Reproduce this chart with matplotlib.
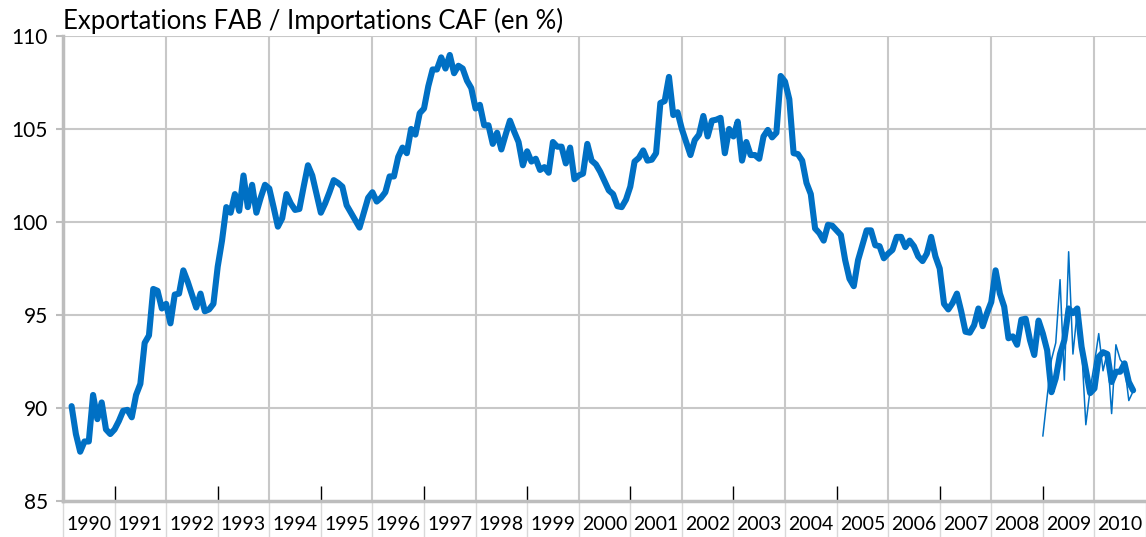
import matplotlib
matplotlib.use("Agg")
import matplotlib.pyplot as plt
import numpy as np

# monthly ratio (3-month average), March 1990 -> October 2010
start_smooth = (1990, 3)
smooth = [
    90.1, 88.6, 87.65, 88.2, 88.2, 90.7, 89.4, 90.3, 88.85, 88.6,            # 1990
    88.85, 89.3, 89.85, 89.9, 89.5, 90.7, 91.3, 93.5, 93.9, 96.4, 96.3, 95.35,  # 1991
    95.6, 94.55, 96.1, 96.15, 97.4, 96.8, 96.1, 95.4, 96.15, 95.2, 95.3, 95.6,  # 1992
    97.6, 99.0, 100.8, 100.5, 101.5, 100.6, 102.5, 100.8, 102.0, 100.5, 101.3, 102.0,  # 1993
    101.8, 100.8, 99.75, 100.2, 101.5, 101.0, 100.65, 100.7, 101.9, 103.05, 102.5, 101.5,  # 1994
    100.5, 101.0, 101.6, 102.25, 102.1, 101.9, 100.9, 100.5, 100.1, 99.7, 100.5, 101.3,  # 1995
    101.6, 101.1, 101.3, 101.6, 102.45, 102.45, 103.5, 104.0, 103.7, 105.0, 104.7, 105.85,  # 1996
    106.1, 107.3, 108.2, 108.2, 108.85, 108.25, 108.98, 108.0, 108.4, 108.25, 107.6, 107.2,  # 1997
    106.1, 106.3, 105.2, 105.2, 104.2, 104.8, 103.9, 104.7, 105.45, 104.85, 104.3, 103.05,  # 1998
    103.8, 103.25, 103.4, 102.8, 102.95, 102.65, 104.3, 104.05, 104.05, 103.15, 104.0, 102.3,  # 1999
    102.5, 102.6, 104.2, 103.3, 103.1, 102.7, 102.2, 101.7, 101.5, 100.85, 100.8, 101.2,  # 2000
    101.9, 103.25, 103.45, 103.85, 103.3, 103.35, 103.7, 106.4, 106.5, 107.8, 105.75, 105.9,  # 2001
    105.0, 104.3, 103.6, 104.4, 104.7, 105.7, 104.6, 105.45, 105.5, 105.6, 103.7, 105.0,  # 2002
    104.6, 105.4, 103.3, 104.3, 103.6, 103.6, 103.4, 104.6, 104.95, 104.55, 104.8, 107.85,  # 2003
    107.55, 106.6, 103.7, 103.65, 103.3, 102.1, 101.5, 99.65, 99.4, 99.0, 99.85, 99.8,  # 2004
    99.55, 99.3, 97.95, 96.95, 96.55, 97.95, 98.75, 99.55, 99.55, 98.75, 98.7, 98.05,  # 2005
    98.3, 98.5, 99.2, 99.2, 98.65, 99.0, 98.7, 98.15, 97.9, 98.3, 99.2, 98.15,  # 2006
    97.5, 95.6, 95.3, 95.65, 96.15, 95.2, 94.1, 94.05, 94.45, 95.35, 94.4, 95.1,  # 2007
    95.7, 97.4, 96.15, 95.45, 93.75, 93.85, 93.4, 94.75, 94.8, 93.65, 92.85, 94.7,  # 2008
    94.0, 93.1, 90.85, 91.6, 92.9, 93.65, 95.35, 95.1, 95.35, 93.3, 92.05, 90.8,  # 2009
    91.05, 92.75, 93.0, 92.9, 91.4, 91.95, 91.95, 92.4, 91.4, 90.95,  # 2010
]

# raw monthly values, January 2009 -> October 2010
start_raw = (2009, 1)
raw = [
    88.5, 90.6, 92.6, 93.5, 96.9, 91.5, 98.4, 92.9, 95.2, 93.3, 89.1, 91.0,  # 2009
    92.4, 94.0, 92.0, 93.0, 89.7, 93.4, 92.6, 92.3, 90.4, 90.9,  # 2010
]

years = list(range(1990, 2011))
title = "Exportations FAB / Importations CAF (en %)"
y_ticks = [85, 90, 95, 100, 105, 110]

blue = "#0070c4"
grid_grey = "#c8c8c8"
axis_grey = "#bdbdbd"
font = ["Lato", "DejaVu Sans"]
plt.rcParams["font.family"] = font


def month_axis(start, n):
    y0, m0 = start
    return np.array([y0 + (m0 - 1 + i) / 12 for i in range(n)])


fig = plt.figure(figsize=(11.46, 5.37), dpi=100)
ax = fig.add_axes([63 / 1146, 1 - 501 / 537, 1 - 63 / 1146, (501 - 36) / 537])

ax.set_xlim(1990, 2011)
ax.set_ylim(85, 110)

# grid: horizontal at every tick, vertical at even years
for v in y_ticks[1:]:
    ax.axhline(v, color=grid_grey, lw=1.5, zorder=1)
for yr in years[2::2]:
    ax.axvline(yr, color=grid_grey, lw=1.5, zorder=1)

ax.plot(month_axis(start_raw, len(raw)), raw, color=blue, lw=1.1, zorder=3)
ax.plot(month_axis(start_smooth, len(smooth)), smooth, color=blue, lw=4.4,
        solid_joinstyle="round", solid_capstyle="round", zorder=4)

for side in ["top", "right"]:
    ax.spines[side].set_visible(False)
ax.spines["left"].set_color(axis_grey)
ax.spines["left"].set_linewidth(2.5)
ax.spines["bottom"].set_color(axis_grey)
ax.spines["bottom"].set_linewidth(2.5)

ax.set_yticks(y_ticks)
ax.set_yticklabels([str(v) for v in y_ticks], fontsize=15)
ax.tick_params(axis="y", length=5, width=1.5, color=axis_grey, pad=6)

# black ticks at odd years, year labels centered in each year
ax.set_xticks(years[1::2])
ax.set_xticklabels([])
ax.tick_params(axis="x", which="major", direction="in", length=11, width=1, color="black")
ax.set_xticks([yr + 0.5 for yr in years], minor=True)
ax.set_xticklabels([str(yr) for yr in years], minor=True, fontsize=14)
ax.tick_params(axis="x", which="minor", length=0, pad=11)

# light separators between year labels
ax.vlines(years + [2011], -0.077, 0, transform=ax.get_xaxis_transform(),
          color="#d9d9d9", lw=1, clip_on=False)

ax.text(0, 1.004, title, transform=ax.transAxes, fontsize=18.5, ha="left", va="bottom")

fig.savefig("out.png", dpi=100)
